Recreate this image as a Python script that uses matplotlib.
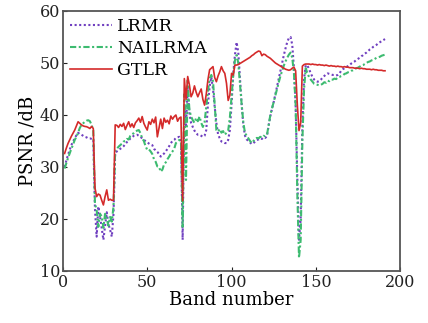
import matplotlib
matplotlib.use("Agg")
import matplotlib.pyplot as plt
import numpy as np

bands = list(range(1, 192))

gtlr = [
    32.6, 33.6, 34.5, 35.2, 35.9, 36.5, 37.1, 37.9, 38.7, 38.4,
    38.1, 37.9, 37.8, 37.75, 37.6, 37.4, 37.8, 37.4, 26.0, 24.3,
    24.8, 24.6, 23.6, 22.7, 24.3, 25.6, 23.6, 23.8, 23.6, 23.6,
    38.1, 38.0, 37.6, 38.2, 37.8, 38.4, 37.2, 38.0, 38.7, 37.7,
    38.3, 37.6, 38.5, 38.9, 39.4, 38.6, 39.7, 38.4, 37.7, 37.1,
    38.7, 38.2, 39.2, 38.5, 39.6, 35.8, 37.5, 39.2, 37.4, 39.4,
    38.6, 39.0, 38.3, 39.8, 39.2, 39.7, 40.0, 38.8, 39.4, 39.6,
    23.5, 47.0, 43.0, 47.4, 45.8, 43.5, 44.2, 45.6, 44.4, 43.5,
    44.3, 45.0, 43.0, 41.9, 44.0, 46.8, 48.7, 49.0, 49.3, 47.2,
    46.4, 47.5, 48.3, 49.3, 48.5, 48.0, 46.1, 42.8, 43.8, 48.0,
    47.7, 49.6, 49.6, 49.7, 49.9, 50.1, 50.3, 50.5, 50.7, 50.9,
    51.1, 51.4, 51.6, 51.9, 52.1, 52.3, 52.2, 51.4, 51.7, 51.6,
    51.3, 51.1, 50.9, 50.6, 50.3, 50.0, 49.8, 49.6, 49.4, 49.2,
    49.0, 48.8, 48.7, 48.6, 48.7, 49.0, 49.2, 48.5, 42.0, 37.0,
    38.5, 49.4, 49.7, 49.8, 49.8, 49.8, 49.7, 49.8, 49.7, 49.7,
    49.6, 49.7, 49.6, 49.6, 49.5, 49.6, 49.5, 49.4, 49.5, 49.4,
    49.4, 49.3, 49.4, 49.3, 49.3, 49.2, 49.3, 49.2, 49.2, 49.1,
    49.1, 49.1, 49.0, 49.0, 49.0, 48.9, 49.0, 48.9, 48.9, 48.8,
    48.8, 48.8, 48.7, 48.8, 48.7, 48.7, 48.6, 48.6, 48.6, 48.5, 48.5,
]

nailrma = [
    29.7, 30.7, 31.7, 32.6, 33.5, 34.3, 35.2, 35.8, 36.6, 37.5,
    38.1, 38.4, 38.7, 38.9, 39.0, 38.8, 38.1, 37.1, 23.0, 21.7,
    18.5, 21.0, 20.5, 18.3, 21.0, 20.0, 18.7, 20.4, 19.5, 22.4,
    33.3, 33.5, 33.9, 34.2, 34.5, 34.9, 35.0, 35.4, 35.3, 36.0,
    36.3, 36.5, 36.8, 37.0, 37.1, 36.5, 35.5, 35.0, 34.0, 33.3,
    33.4, 33.0, 32.5, 31.5, 31.0, 30.1, 30.0, 29.1, 29.5, 30.5,
    30.9, 31.5, 32.0, 32.6, 33.0, 33.5, 34.6, 34.9, 35.2, 35.0,
    18.5, 44.0, 27.5, 46.7, 41.0, 39.7, 39.0, 38.5, 39.4, 38.8,
    39.7, 38.5, 37.7, 38.6, 41.5, 44.5, 47.0, 47.7, 46.5, 42.0,
    37.1, 36.8, 37.3, 36.6, 36.9, 36.2, 36.6, 37.0, 39.5, 43.5,
    47.8, 50.5, 51.5, 50.0, 46.0, 42.0, 38.5, 36.5, 36.0, 35.5,
    35.0, 34.6, 35.0, 35.4, 35.6, 35.5, 35.8, 35.7, 36.0, 35.9,
    36.2, 38.0, 40.0, 41.3, 42.5, 43.8, 45.0, 46.3, 47.5, 48.5,
    49.5, 50.3, 51.0, 51.6, 52.0, 51.0, 48.0, 42.0, 25.0, 12.5,
    16.0, 35.0, 45.0, 49.0, 48.0, 47.3, 46.8, 46.4, 46.0, 45.9,
    45.8, 45.7, 45.8, 46.0, 46.3, 46.2, 46.6, 46.5, 46.8, 46.8,
    47.0, 46.9, 47.2, 47.3, 47.5, 47.6, 47.9, 48.0, 48.2, 48.3,
    48.5, 48.6, 48.8, 49.0, 49.1, 49.3, 49.5, 49.6, 49.8, 50.0,
    50.2, 50.3, 50.5, 50.6, 50.8, 51.0, 51.1, 51.2, 51.4, 51.5, 51.6,
]

lrmr = [
    30.0, 31.2, 32.3, 33.3, 34.2, 34.9, 35.5, 36.1, 36.6, 36.3,
    36.2, 36.0, 35.8, 35.7, 35.5, 35.5, 35.4, 35.3, 22.0, 16.6,
    22.4, 20.5, 18.3, 16.0, 18.7, 21.3, 19.0, 17.9, 16.6, 21.0,
    32.7, 33.0, 33.2, 33.5, 33.7, 34.0, 34.4, 34.8, 35.1, 35.5,
    35.7, 36.0, 36.1, 36.2, 36.0, 35.8, 35.5, 35.2, 35.0, 34.8,
    34.5, 34.3, 34.2, 33.5, 33.2, 32.9, 32.5, 32.0, 32.3, 32.6,
    33.0, 33.5, 34.0, 34.6, 35.0, 35.2, 35.6, 35.7, 35.8, 35.5,
    16.0, 42.0, 38.0, 45.4, 40.4, 38.5, 37.7, 37.0, 36.5, 36.2,
    36.2, 36.0, 35.8, 36.0, 37.1, 42.0, 45.4, 47.3, 45.0, 41.6,
    38.5, 36.3, 35.5, 34.9, 34.8, 34.6, 34.6, 35.2, 37.1, 42.0,
    47.9, 51.5, 54.0, 52.0, 47.0, 42.0, 38.0, 36.0, 35.3, 35.0,
    34.7, 34.4, 34.6, 34.9, 35.2, 35.3, 35.5, 35.4, 35.7, 35.6,
    35.9, 38.0, 39.8, 41.2, 42.5, 44.0, 45.5, 47.0, 48.5, 50.0,
    51.5, 52.8, 54.0, 54.8, 55.0, 53.5, 49.0, 42.0, 28.0, 16.0,
    20.0, 38.0, 47.0, 49.6, 49.5, 48.8, 48.0, 47.3, 46.8, 46.5,
    46.4, 46.5, 46.8, 47.2, 47.5, 47.8, 48.0, 47.9, 47.8, 47.7,
    47.7, 47.6, 47.7, 48.0, 48.5, 48.8, 49.0, 49.2, 49.4, 49.6,
    49.9, 50.1, 50.3, 50.6, 50.8, 51.0, 51.3, 51.5, 51.8, 52.0,
    52.3, 52.6, 52.8, 53.1, 53.3, 53.5, 53.8, 54.0, 54.2, 54.4, 54.6,
]

xticks = [0, 50, 100, 150, 200]
yticks = [10, 20, 30, 40, 50, 60]

plt.rcParams['font.family'] = ['DejaVu Serif']

fig = plt.figure(figsize=(4.28, 3.23), dpi=100)
ax = fig.add_axes([0.147, 0.161, 0.788, 0.805])

ax.plot(bands, lrmr, linestyle=(0, (1, 1.2)), color='#7040c0', linewidth=1.5, label='LRMR')
ax.plot(bands, nailrma, linestyle=(0, (3, 1.2, 1, 1.2)), color='#3dbb70', linewidth=1.5, label='NAILRMA')
ax.plot(bands, gtlr, linestyle='-', color='#d42a2a', linewidth=1.2, label='GTLR')

ax.set_xlim(0, 200)
ax.set_ylim(10, 60)
ax.set_xticks(xticks)
ax.set_yticks(yticks)
ax.tick_params(direction='in', length=3, labelsize=11.5, colors='#222222', pad=2)
for s in ax.spines.values():
    s.set_color('#555555')
    s.set_linewidth(1.3)

ax.set_xlabel('Band number', fontsize=13, labelpad=0)
ax.set_ylabel('PSNR /dB', fontsize=13, labelpad=2)

leg = ax.legend(loc='upper left', frameon=False, fontsize=12.5, handlelength=2.4,
                handletextpad=0.3, labelspacing=0.3, borderaxespad=0.2,
                borderpad=0.2)

fig.savefig('out.png', dpi=100)
